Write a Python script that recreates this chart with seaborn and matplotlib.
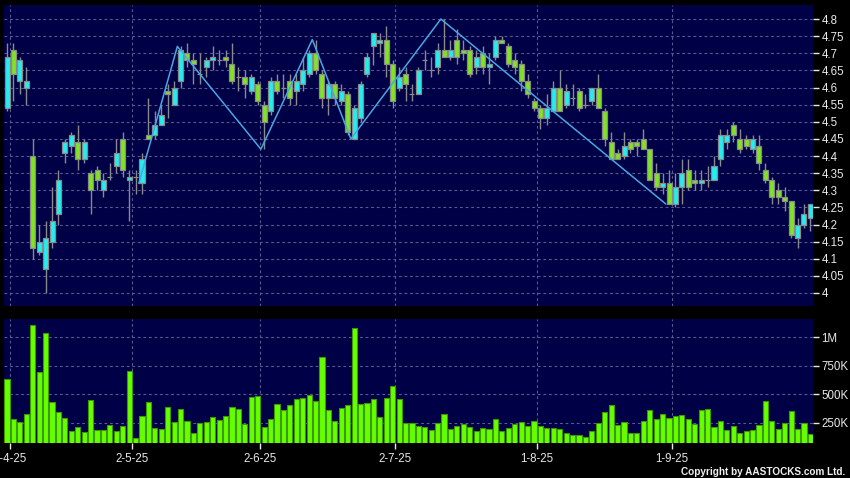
import numpy as np
import pandas as pd
import matplotlib
matplotlib.use("Agg")
import matplotlib.pyplot as plt
import seaborn as sns

# ---------------- data ----------------
opens = [4.54, 4.71, 4.62, 4.60, 4.40, 4.12, 4.07, 4.15, 4.23, 4.41,
         4.43, 4.44, 4.39, 4.35, 4.36, 4.30, 4.34, 4.37, 4.45, 4.33,
         4.34, 4.32, 4.46, 4.46, 4.49, 4.59, 4.55, 4.62, 4.70, 4.68,
         4.64, 4.66, 4.68, 4.68, 4.69, 4.67, 4.63, 4.63, 4.59, 4.61,
         4.55, 4.53, 4.62, 4.60, 4.62, 4.59, 4.61, 4.64, 4.70, 4.64,
         4.57, 4.61, 4.56, 4.58, 4.45, 4.51, 4.64, 4.72, 4.73, 4.74,
         4.67, 4.60, 4.64, 4.58, 4.58, 4.68, 4.65, 4.66, 4.71, 4.69,
         4.74, 4.71, 4.71, 4.66, 4.70, 4.66, 4.69, 4.74, 4.72, 4.68,
         4.67, 4.62, 4.56, 4.54, 4.51, 4.53, 4.60, 4.55, 4.57, 4.59,
         4.55, 4.56, 4.60, 4.53, 4.44, 4.41, 4.40, 4.44, 4.44, 4.45,
         4.42, 4.35, 4.31, 4.32, 4.26, 4.31, 4.36, 4.33, 4.32, 4.33,
         4.33, 4.39, 4.44, 4.49, 4.45, 4.45, 4.42, 4.43, 4.36, 4.33,
         4.30, 4.28, 4.27, 4.16, 4.20, 4.22]
highs = [4.73, 4.73, 4.69, 4.66, 4.45, 4.20, 4.21, 4.31, 4.36, 4.45,
         4.47, 4.49, 4.45, 4.36, 4.37, 4.35, 4.38, 4.45, 4.47, 4.36,
         4.36, 4.41, 4.57, 4.53, 4.55, 4.61, 4.62, 4.72, 4.73, 4.70,
         4.70, 4.69, 4.72, 4.71, 4.71, 4.73, 4.66, 4.65, 4.64, 4.62,
         4.56, 4.63, 4.64, 4.64, 4.64, 4.64, 4.69, 4.71, 4.74, 4.65,
         4.62, 4.62, 4.61, 4.59, 4.55, 4.62, 4.70, 4.76, 4.76, 4.78,
         4.68, 4.66, 4.66, 4.61, 4.66, 4.71, 4.69, 4.73, 4.80, 4.74,
         4.77, 4.74, 4.72, 4.71, 4.72, 4.70, 4.75, 4.75, 4.73, 4.70,
         4.68, 4.64, 4.57, 4.55, 4.58, 4.62, 4.65, 4.61, 4.61, 4.60,
         4.58, 4.60, 4.64, 4.54, 4.47, 4.42, 4.47, 4.45, 4.45, 4.48,
         4.42, 4.38, 4.35, 4.36, 4.35, 4.39, 4.39, 4.36, 4.36, 4.37,
         4.40, 4.48, 4.48, 4.50, 4.48, 4.46, 4.46, 4.46, 4.38, 4.34,
         4.32, 4.31, 4.27, 4.22, 4.26, 4.26]
lows = [4.53, 4.56, 4.58, 4.55, 4.10, 4.11, 4.00, 4.13, 4.20, 4.38,
        4.41, 4.36, 4.38, 4.23, 4.30, 4.28, 4.33, 4.35, 4.34, 4.21,
        4.29, 4.29, 4.45, 4.45, 4.49, 4.51, 4.55, 4.60, 4.66, 4.61,
        4.61, 4.63, 4.65, 4.665, 4.66, 4.61, 4.59, 4.57, 4.58, 4.55,
        4.42, 4.52, 4.58, 4.57, 4.55, 4.55, 4.59, 4.63, 4.64, 4.54,
        4.52, 4.55, 4.55, 4.46, 4.45, 4.50, 4.63, 4.665, 4.69, 4.63,
        4.54, 4.59, 4.56, 4.56, 4.58, 4.65, 4.63, 4.64, 4.69, 4.68,
        4.67, 4.68, 4.63, 4.64, 4.64, 4.61, 4.68, 4.73, 4.66, 4.64,
        4.59, 4.57, 4.53, 4.48, 4.49, 4.53, 4.53, 4.54, 4.55, 4.53,
        4.54, 4.55, 4.54, 4.43, 4.39, 4.39, 4.39, 4.41, 4.40, 4.42,
        4.33, 4.30, 4.29, 4.26, 4.25, 4.26, 4.30, 4.30, 4.30, 4.31,
        4.33, 4.37, 4.42, 4.44, 4.41, 4.42, 4.41, 4.36, 4.32, 4.26,
        4.26, 4.24, 4.16, 4.13, 4.19, 4.18]
closes = [4.69, 4.64, 4.68, 4.62, 4.13, 4.15, 4.16, 4.21, 4.33, 4.44,
          4.46, 4.39, 4.44, 4.30, 4.33, 4.33, 4.34, 4.41, 4.36, 4.34,
          4.34, 4.39, 4.45, 4.49, 4.52, 4.58, 4.60, 4.71, 4.68, 4.67,
          4.64, 4.68, 4.69, 4.68, 4.68, 4.62, 4.63, 4.61, 4.63, 4.56,
          4.50, 4.62, 4.59, 4.60, 4.57, 4.62, 4.65, 4.70, 4.65, 4.57,
          4.61, 4.57, 4.59, 4.47, 4.54, 4.61, 4.69, 4.76, 4.74, 4.67,
          4.56, 4.63, 4.61, 4.58, 4.65, 4.68, 4.65, 4.71, 4.69, 4.71,
          4.69, 4.70, 4.64, 4.69, 4.66, 4.67, 4.74, 4.73, 4.67, 4.66,
          4.62, 4.58, 4.54, 4.51, 4.54, 4.60, 4.53, 4.59, 4.57, 4.54,
          4.55, 4.60, 4.54, 4.45, 4.39, 4.39, 4.43, 4.42, 4.43, 4.42,
          4.33, 4.31, 4.32, 4.26, 4.31, 4.35, 4.31, 4.32, 4.33, 4.33,
          4.37, 4.46, 4.46, 4.46, 4.42, 4.43, 4.45, 4.38, 4.33, 4.28,
          4.28, 4.27, 4.17, 4.20, 4.23, 4.26]
volumes_k = [634, 283, 257, 327, 1109, 698, 1041, 428, 341, 295,
             180, 213, 172, 447, 183, 186, 230, 178, 221, 701,
             116, 309, 428, 204, 198, 388, 254, 368, 262, 163,
             245, 259, 303, 274, 312, 385, 374, 242, 473, 485,
             213, 283, 417, 365, 409, 462, 470, 497, 444, 828,
             359, 265, 376, 405, 1080, 417, 420, 459, 300, 470,
             575, 462, 248, 251, 221, 210, 186, 245, 327, 192,
             221, 239, 210, 177, 204, 198, 283, 180, 201, 236,
             257, 224, 265, 221, 201, 204, 195, 157, 139, 142,
             128, 175, 251, 347, 409, 230, 260, 163, 163, 262,
             359, 283, 324, 295, 312, 315, 283, 239, 362, 374,
             216, 262, 186, 221, 163, 177, 186, 230, 438, 268,
             192, 251, 356, 198, 251, 151]

date_tick_idx = [0, 19, 39, 60, 82, 103]
date_tick_labels = ["1-4-25", "2-5-25", "2-6-25", "2-7-25", "1-8-25", "1-9-25"]
zigzag_idx = [21, 27, 40, 48, 54, 68, 103]
zigzag_val = [4.32, 4.72, 4.42, 4.74, 4.45, 4.80, 4.26]
price_ticks = [4.0, 4.05, 4.1, 4.15, 4.2, 4.25, 4.3, 4.35, 4.4, 4.45,
               4.5, 4.55, 4.6, 4.65, 4.7, 4.75, 4.8]
vol_ticks = [250e3, 500e3, 750e3, 1e6]
vol_tick_labels = ["250K", "500K", "750K", "1M"]

# ---------------- style ----------------
BG = "#000046"
UP = "#22eef0"
DOWN = "#80e323"
EDGE = "#8a8a8a"
GRID = "#5a5a92"
VOL = "#66ff00"
VOL_EDGE = "#3c9a00"

sns.set_theme(style="dark", rc={"axes.facecolor": BG, "figure.facecolor": "black",
                                "savefig.facecolor": "black"})
plt.rcParams["font.family"] = ["Liberation Sans", "DejaVu Sans"]

df = pd.DataFrame({"open": opens, "high": highs, "low": lows, "close": closes,
                   "volume": np.array(volumes_k) * 1000.0})
df["idx"] = np.arange(len(df))

W, H = 850, 478
fig = plt.figure(figsize=(W / 100, H / 100), dpi=100)
ax1 = fig.add_axes([3.5 / W, 1 - 306 / H, 809.8 / W, 301 / H])
ax2 = fig.add_axes([3.5 / W, 1 - 443.3 / H, 809.8 / W, 124.3 / H])

tick_pos = np.array(date_tick_idx) + 0.4
grid_kw = dict(color=GRID, linestyle=(0, (2.5, 2.5)), linewidth=0.8)

# ---------------- price panel ----------------
x = df["idx"].to_numpy()
o = df["open"].to_numpy(); c = df["close"].to_numpy()
ax1.vlines(x, df["low"], df["high"], color=EDGE, linewidth=1.0, zorder=2)
colors = np.where(c > o, UP, np.where(c < o, DOWN, EDGE))
ax1.bar(x, np.abs(c - o), bottom=np.minimum(o, c), width=0.78, color=colors,
        edgecolor=EDGE, linewidth=0.9, zorder=3)
zz_x = np.array(zigzag_idx) - 0.5
ax1.plot(zz_x, zigzag_val, color="#4aa6e2", linewidth=1.1, zorder=4)

ax1.set_xlim(-0.55, 125.45)
ax1.set_ylim(3.962, 4.841)
ax1.set_yticks(price_ticks)
ax1.set_yticklabels(["%g" % t for t in price_ticks])
ax1.set_xticks(tick_pos)
ax1.set_xticklabels([])
ax1.yaxis.tick_right()
ax1.tick_params(axis="y", colors="#e8e8e8", length=4, width=1, pad=2,
                labelsize=8.3, right=True, left=False, direction="out")
ax1.tick_params(axis="x", length=0)
ax1.grid(True, **grid_kw)
ax1.set_axisbelow(True)
for s in ax1.spines.values():
    s.set_visible(False)

# ---------------- volume panel ----------------
sns.barplot(data=df, x="idx", y="volume", native_scale=True, ax=ax2, color=VOL,
            saturation=1, edgecolor=VOL_EDGE, linewidth=0.8, errorbar=None,
            width=0.8, zorder=3)
ax2.set_xlim(-0.55, 125.45)
ax2.set_ylim(69e3, 1.162e6)
ax2.set_yticks(vol_ticks)
ax2.set_yticklabels(vol_tick_labels)
ax2.set_xticks(tick_pos)
ax2.set_xticklabels(date_tick_labels)
ax2.set_xlabel(""); ax2.set_ylabel("")
ax2.yaxis.tick_right()
ax2.tick_params(axis="y", colors="#e8e8e8", length=4, width=1, pad=2,
                labelsize=8.3, right=True, left=False, direction="out")
ax2.tick_params(axis="x", colors="#e8e8e8", length=4, width=1, pad=3,
                labelsize=8.3, bottom=True, direction="out")
ax2.grid(True, **grid_kw)
ax2.set_axisbelow(True)
for s in ax2.spines.values():
    s.set_visible(False)

fig.text(845 / W, 1 - 475 / H, "Copyright by AASTOCKS.com Ltd.", ha="right",
         va="baseline", color="#f0f0f0", fontsize=7.2, fontweight="bold")

fig.savefig("out.png", dpi=100, facecolor="black")
